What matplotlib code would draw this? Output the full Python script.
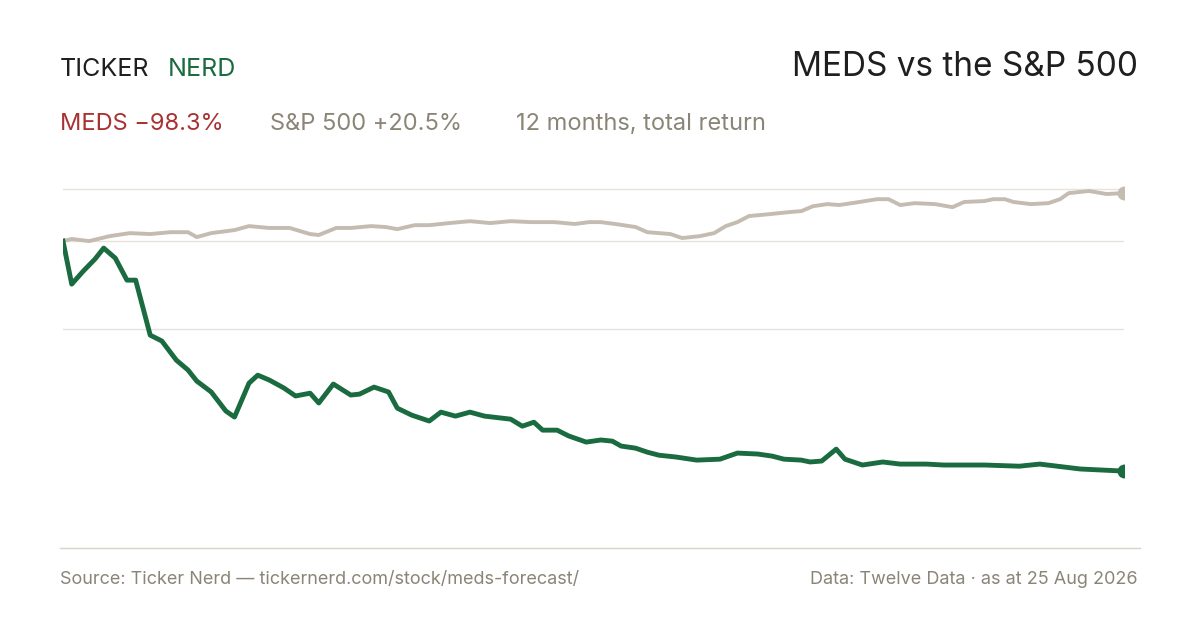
import matplotlib
matplotlib.use("Agg")
from matplotlib import pyplot as plt
from matplotlib.lines import Line2D

plt.rcParams['font.family'] = ['Inter', 'DejaVu Sans']

# (day, value indexed to 100)
MEDS = [(0, 100), (3, 81.6), (7, 87.2), (11, 92.3), (14, 97.0), (18, 92.7), (22, 83.3), (25, 83.3),
        (30, 59.8), (34, 57.3), (39, 49.1), (43, 44.9), (46, 40.2), (51, 35.5), (56, 27.4), (59, 24.8),
        (64, 39.3), (67, 42.7), (71, 40.6), (76, 37.2), (80, 33.8), (85, 35.0), (88, 30.8), (93, 38.9),
        (99, 34.2), (102, 34.6), (107, 37.6), (112, 35.5), (115, 28.6), (120, 25.6), (126, 23.1),
        (130, 26.9), (135, 25.2), (140, 26.9), (145, 25.2), (154, 23.9), (158, 20.9), (162, 22.6),
        (165, 19.2), (170, 19.2), (174, 16.7), (180, 14.1), (185, 15.0), (189, 14.5), (192, 12.4),
        (197, 11.5), (201, 9.8), (205, 8.5), (211, 7.7), (218, 6.4), (226, 6.8), (232, 9.4), (239, 9.0),
        (244, 8.1), (248, 6.8), (254, 6.4), (257, 5.6), (261, 6.0), (266, 11.1), (269, 6.8), (275, 4.3),
        (282, 5.6), (288, 4.7), (297, 4.7), (303, 4.3), (317, 4.3), (329, 3.8), (336, 4.7), (342, 3.8),
        (350, 2.6), (365, 1.7)]
SPX = [(0, 100), (3, 100.9), (9, 100), (16, 102.1), (23, 103.4), (30, 103.0), (37, 103.8), (43, 103.8),
       (46, 101.7), (51, 103.4), (59, 104.7), (64, 106.4), (71, 105.6), (78, 105.6), (85, 103.0),
       (88, 102.6), (94, 105.6), (99, 105.6), (106, 106.4), (111, 106.0), (115, 105.1), (121, 106.8),
       (126, 106.8), (133, 107.7), (140, 108.5), (147, 107.7), (154, 108.5), (161, 108.1), (169, 108.1),
       (176, 107.3), (181, 108.1), (185, 108.1), (190, 107.3), (197, 106.0), (201, 103.8), (209, 103.0),
       (213, 101.3), (219, 102.1), (224, 103.4), (228, 106.4), (232, 108.1), (236, 110.7), (243, 111.5),
       (250, 112.4), (254, 112.8), (258, 114.9), (263, 115.8), (267, 115.4), (274, 116.7), (280, 117.9),
       (284, 117.9), (288, 115.4), (293, 116.2), (300, 115.8), (306, 114.5), (310, 116.7), (317, 117.1),
       (320, 117.9), (324, 117.9), (327, 116.7), (333, 115.8), (339, 116.2), (343, 117.9), (346, 120.5),
       (353, 121.4), (359, 120.1), (365, 120.5)]
GRID = [122.2, 100, 62.4]

GREEN = '#1a6b3f'
SAND = '#c4bcb0'
RED = '#a83232'
MUTED = '#8a8577'

fig = plt.figure(figsize=(12, 6.3), dpi=100)
ax = fig.add_axes([63 / 1200, 150 / 630, 1061 / 1200, 300 / 630])
for g in GRID:
    ax.axhline(g, color='#e6e3de', lw=1, zorder=0)
mx, my = zip(*MEDS)
sx, sy = zip(*SPX)
ax.plot(sx, sy, color=SAND, lw=2.8, solid_joinstyle='round')
ax.plot(mx, my, color=GREEN, lw=3.5, solid_joinstyle='round')
ax.plot(sx[-1], sy[-1], 'o', color=SAND, ms=9)
ax.plot(mx[-1], my[-1], 'o', color=GREEN, ms=9)
ax.set_xlim(0, 365)
ax.set_ylim(-2.1, 126.1)
ax.axis('off')

fig.add_artist(Line2D([60 / 1200, 1140 / 1200], [82 / 630, 82 / 630], color='#d8d4cc', lw=1))

fig.text(60 / 1200, 1 - 70 / 630, 'TICKER', fontsize=18, color='#1f1f1f', va='center')
fig.text(168 / 1200, 1 - 70 / 630, 'NERD', fontsize=18, color=GREEN, va='center')
fig.text(1138 / 1200, 1 - 67 / 630, 'MEDS vs the S&P 500', fontsize=24, color='#1f1f1f',
         va='center', ha='right')
fig.text(60 / 1200, 1 - 124 / 630, 'MEDS −98.3%', fontsize=17, color=RED, va='center')
fig.text(270 / 1200, 1 - 124 / 630, 'S&P 500 +20.5%', fontsize=17, color=MUTED, va='center')
fig.text(516 / 1200, 1 - 124 / 630, '12 months, total return', fontsize=17, color=MUTED, va='center')
fig.text(60 / 1200, 1 - 580 / 630, 'Source: Ticker Nerd — tickernerd.com/stock/meds-forecast/',
         fontsize=13, color=MUTED, va='center')
fig.text(1138 / 1200, 1 - 580 / 630, 'Data: Twelve Data · as at 25 Aug 2026', fontsize=13,
         color=MUTED, va='center', ha='right')

fig.savefig('out.png', dpi=100, facecolor='white')
